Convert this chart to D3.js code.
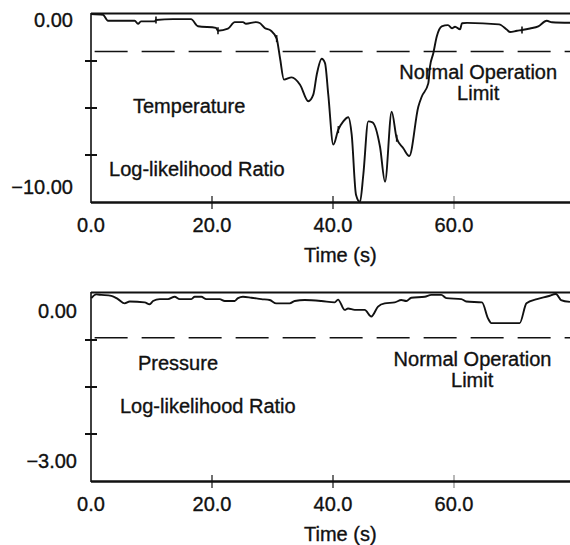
<!DOCTYPE html>
<html>
<head>
<meta charset="utf-8">
<script src="https://cdn.jsdelivr.net/npm/d3@7"></script>
<style>
  body { margin: 0; background: #fff; }
  svg text { font-family: "Liberation Sans", Arial, Helvetica, sans-serif; fill: #111; stroke: #111; stroke-width: 0.35; }
</style>
</head>
<body>
<svg id="chart" width="570" height="545"></svg>
<script>
// shared time axis
const timeDomain = [0, 80];
const timeTicks = [0, 20, 40, 60];
const timeTickLabels = ['0.0', '20.0', '40.0', '60.0'];
const timeTickMarks = [20, 40, 60];

// temperature log-likelihood ratio
const tempTime = [0, 1.98, 2.81, 7.22, 7.77, 8.26, 10.53, 10.74, 13.55, 16.53,
  17.69, 20.66, 20.99, 22.64, 23.75, 25.12, 25.62, 27.27, 27.88, 28.71,
  29.75, 30.69, 31.24, 31.9, 33.17, 34.55, 35.92, 36.74, 37.31, 38.13,
  38.68, 39.22, 40.05, 40.88, 41.7, 42.53, 43.09, 43.8, 44.46, 45.01,
  45.83, 46.53, 47.77, 48.6, 49.7, 50.53, 51.62, 52.61, 54.1, 54.66,
  55.75, 56.03, 56.58, 57.14, 57.97, 59.0, 59.67, 60.17, 61.0, 61.32,
  62.15, 67.44, 68.76, 69.26, 70.41, 71.24, 72.56, 73.93, 75.32, 76.2, 79.5];
const tempLLR = [0.0, -0.04, -0.36, -0.36, -0.52, -0.39, -0.39, -0.32, -0.27, -0.27,
  -0.65, -0.74, -0.89, -0.78, -0.43, -0.43, -0.52, -0.43, -0.48, -0.74,
  -0.89, -1.31, -2.34, -3.49, -3.37, -3.76, -4.64, -4.29, -3.23, -2.38,
  -2.61, -4.29, -6.95, -6.15, -5.71, -5.49, -6.42, -9.61, -10.0, -8.55,
  -5.71, -5.76, -7.06, -8.92, -5.2, -6.61, -7.14, -7.55, -4.93, -4.4,
  -3.69, -2.8, -2.09, -1.21, -0.66, -0.59, -0.76, -0.68, -0.82, -0.49,
  -0.47, -0.55, -0.84, -0.96, -0.89, -0.85, -0.77, -0.66, -0.36, -0.44, -0.47];
const tempMarkIdx = [7, 12, 21, 33, 45, 65];
const tempLimit = -2.0;
const tempYDomain = [0, -10];
const tempYTicks = [-2.5, -5, -7.5];
const tempYLabelVals = [0, -10];
const tempYLabels = ['0.00', '\u221210.00'];

// pressure log-likelihood ratio
const pressTime = [0.05, 0.88, 1.7, 3.36, 4.46, 5.57, 6.4, 8.88, 9.7, 10.25,
  11.36, 12.73, 13.83, 14.66, 16.58, 17.14, 18.23, 19.06, 21.27, 22.1,
  23.75, 24.3, 25.12, 26.5, 28.15, 29.54, 30.63, 32.84, 33.67, 35.32,
  38.07, 40.28, 40.83, 41.93, 42.48, 43.59, 45.24, 46.33, 47.44, 48.55,
  50.2, 51.29, 52.12, 52.94, 55.16, 56.25, 57.9, 58.73, 61.21, 62.03,
  64.63, 65.62, 66.17, 70.86, 71.98, 73.72, 75.54, 76.86, 77.69, 79.17];
const pressLLR = [0.39, 0.47, 0.46, 0.44, 0.37, 0.28, 0.32, 0.3, 0.26, 0.33,
  0.37, 0.37, 0.42, 0.37, 0.37, 0.42, 0.42, 0.37, 0.37, 0.33,
  0.33, 0.39, 0.42, 0.4, 0.37, 0.35, 0.28, 0.28, 0.33, 0.35,
  0.33, 0.3, 0.36, 0.14, 0.17, 0.14, 0.14, 0.0, 0.21, 0.28,
  0.3, 0.35, 0.33, 0.4, 0.42, 0.46, 0.46, 0.39, 0.37, 0.32,
  0.3, -0.04, -0.14, -0.14, 0.28, 0.37, 0.43, 0.48, 0.35, 0.31];
const pressMarkIdx = [];
const pressLimit = -0.45;
const pressYDomain = [0.5, -3.5];
const pressYTicks = [-0.5, -1.5, -2.5];
const pressYLabelVals = [0, -3];
const pressYLabels = ['0.00', '\u22123.00'];

const svg = d3.select('#chart');
const x = d3.scaleLinear().domain(timeDomain).range([91, 575]);

function drawPanel(p) {
  const y = d3.scaleLinear().domain(p.yDomain).range([p.top, p.bottom]);
  const g = svg.append('g');

  // frame: top border, left axis, bottom axis
  g.append('line').attr('x1', x(0)).attr('x2', 575)
    .attr('y1', p.top - 0.5).attr('y2', p.top - 0.5)
    .attr('stroke', '#111').attr('stroke-width', 2.2);
  g.append('line').attr('x1', x(0)).attr('x2', x(0))
    .attr('y1', p.top - 1).attr('y2', p.bottom + 1)
    .attr('stroke', '#111').attr('stroke-width', 1.6);
  g.append('line').attr('x1', x(0)).attr('x2', 575)
    .attr('y1', p.bottom + 0.5).attr('y2', p.bottom + 0.5)
    .attr('stroke', '#111').attr('stroke-width', 2.4);

  // y ticks crossing the axis
  g.selectAll('.ytick').data(p.yTicks).join('line')
    .attr('x1', x(0) - 6).attr('x2', x(0) + 6)
    .attr('y1', d => y(d)).attr('y2', d => y(d))
    .attr('stroke', '#111').attr('stroke-width', 2);

  // x ticks
  g.selectAll('.xtick').data(timeTickMarks).join('line')
    .attr('x1', d => x(d)).attr('x2', d => x(d))
    .attr('y1', p.bottom - 6).attr('y2', p.bottom + 7)
    .attr('stroke', '#111').attr('stroke-width', (d, i) => i < 2 ? 1.2 : 0.6);

  // y labels
  g.selectAll('.ylab').data(p.yLabelVals).join('text')
    .attr('x', p.yLabelX).attr('y', (d, i) => y(d) + p.yLabelDy[i])
    .attr('text-anchor', 'end').attr('font-size', 20)
    .text((d, i) => p.yLabels[i]);

  // x labels
  g.selectAll('.xlab').data(timeTicks).join('text')
    .attr('x', d => x(d)).attr('y', p.bottom + 29.5)
    .attr('text-anchor', 'middle').attr('font-size', 20)
    .text((d, i) => timeTickLabels[i]);

  g.append('text').attr('x', x(41.2)).attr('y', p.bottom + 60)
    .attr('text-anchor', 'middle').attr('font-size', 20).text('Time (s)');

  // normal operation limit
  g.append('line').attr('x1', x(0.6)).attr('x2', 575)
    .attr('y1', y(p.limit)).attr('y2', y(p.limit))
    .attr('stroke', '#111').attr('stroke-width', 1.5)
    .attr('stroke-dasharray', '33,14');

  // series
  const pts = p.time.map((t, i) => [t, p.llr[i]]);
  const line = d3.line().x(d => x(d[0])).y(d => y(d[1])).curve(d3.curveMonotoneX);
  g.append('path').attr('d', line(pts))
    .attr('fill', 'none').attr('stroke', '#111')
    .attr('stroke-width', 1.9).attr('stroke-linejoin', 'round');

  g.selectAll('.mk').data(p.markIdx).join('line')
    .attr('x1', i => x(p.time[i])).attr('x2', i => x(p.time[i]))
    .attr('y1', i => y(p.llr[i]) - 3.5).attr('y2', i => y(p.llr[i]) + 3.5)
    .attr('stroke', '#111').attr('stroke-width', 1.6);

  // annotations
  g.selectAll('.ann').data(p.notes).join('text')
    .attr('x', d => x(d.t)).attr('y', d => y(d.v))
    .attr('text-anchor', d => d.anchor).attr('font-size', 20)
    .text(d => d.text);
}

drawPanel({
  top: 14, bottom: 202, yDomain: tempYDomain,
  yTicks: tempYTicks, yLabelVals: tempYLabelVals, yLabels: tempYLabels,
  yLabelX: 73, yLabelDy: [12.7, -8],
  limit: tempLimit, time: tempTime, llr: tempLLR, markIdx: tempMarkIdx,
  notes: [
    { text: 'Temperature', t: 6.94, v: -5.27, anchor: 'start' },
    { text: 'Log-likelihood Ratio', t: 2.98, v: -8.62, anchor: 'start' },
    { text: 'Normal Operation', t: 64.0, v: -3.48, anchor: 'middle' },
    { text: 'Limit', t: 64.0, v: -4.57, anchor: 'middle' }
  ]
});

drawPanel({
  top: 293, bottom: 481, yDomain: pressYDomain,
  yTicks: pressYTicks, yLabelVals: pressYLabelVals, yLabels: pressYLabels,
  yLabelX: 77, yLabelDy: [1.5, 10.5],
  limit: pressLimit, time: pressTime, llr: pressLLR, markIdx: pressMarkIdx,
  notes: [
    { text: 'Pressure', t: 7.77, v: -1.13, anchor: 'start' },
    { text: 'Log-likelihood Ratio', t: 4.79, v: -2.05, anchor: 'start' },
    { text: 'Normal Operation', t: 63.06, v: -1.06, anchor: 'middle' },
    { text: 'Limit', t: 63.0, v: -1.49, anchor: 'middle' }
  ]
});
</script>
</body>
</html>
